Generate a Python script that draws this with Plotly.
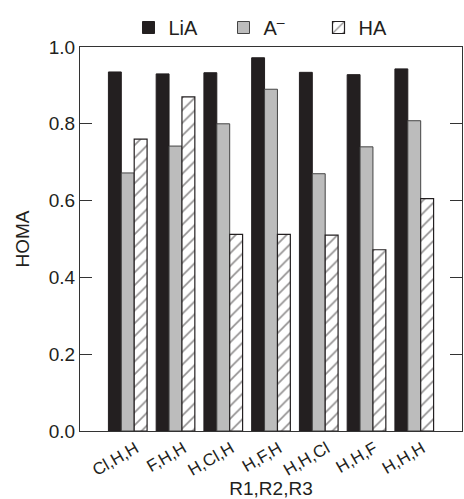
import plotly.graph_objects as go

categories = ["Cl,H,H", "F,H,H", "H,Cl,H", "H,F,H", "H,H,Cl", "H,H,F", "H,H,H"]
lia = [0.935, 0.930, 0.933, 0.972, 0.934, 0.928, 0.943]
a_minus = [0.672, 0.742, 0.800, 0.890, 0.670, 0.740, 0.808]
ha = [0.760, 0.870, 0.512, 0.512, 0.510, 0.472, 0.605]
yticks = [0.0, 0.2, 0.4, 0.6, 0.8, 1.0]

x = list(range(len(categories)))
font = "Liberation Sans, Arial, sans-serif"

fig = go.Figure()
fig.add_trace(go.Bar(x=x, y=lia, name="LiA", marker=dict(color="#231f20", line=dict(color="#231f20", width=1))))
fig.add_trace(go.Bar(x=x, y=a_minus, name="A<sup>–</sup>", marker=dict(color="#bcbcbc", line=dict(color="#444444", width=1))))
fig.add_trace(go.Bar(x=x, y=ha, name="HA", marker=dict(color="white", line=dict(color="#231f20", width=1.2),
                                                     pattern=dict(shape="/", fgcolor="#231f20", bgcolor="white", size=9, solidity=0.18))))

fig.update_layout(
    width=464, height=499,
    margin=dict(l=80, r=2, t=47, b=68),
    barmode="group", bargap=0.19, bargroupgap=0,
    plot_bgcolor="white", paper_bgcolor="white",
    font=dict(family=font, size=19, color="#231f20"),
    legend=dict(orientation="h", x=0.5, xanchor="center", y=1.0, yanchor="bottom",
                font=dict(size=20), itemwidth=30, entrywidth=50, bgcolor="rgba(0,0,0,0)"),
    xaxis=dict(range=[-1, 7], tickmode="array", tickvals=x, ticktext=categories, tickangle=-30,
               showline=True, linecolor="#333333", linewidth=1, mirror=True, ticks="", showgrid=False,
               zeroline=False, tickfont=dict(size=17), ticklabelshift=8,
               title=dict(text="R1,R2,R3", font=dict(size=19), standoff=2)),
    yaxis=dict(range=[0, 1.0], tickmode="array", tickvals=yticks, tickformat=".1f",
               showline=True, linecolor="#333333", linewidth=1, mirror="ticks", ticks="inside",
               ticklen=12, tickcolor="#333333", showgrid=False, zeroline=False, tickfont=dict(size=19),
               title=dict(text="HOMA", font=dict(size=19), standoff=14)),
)

fig.write_html("out.html")
